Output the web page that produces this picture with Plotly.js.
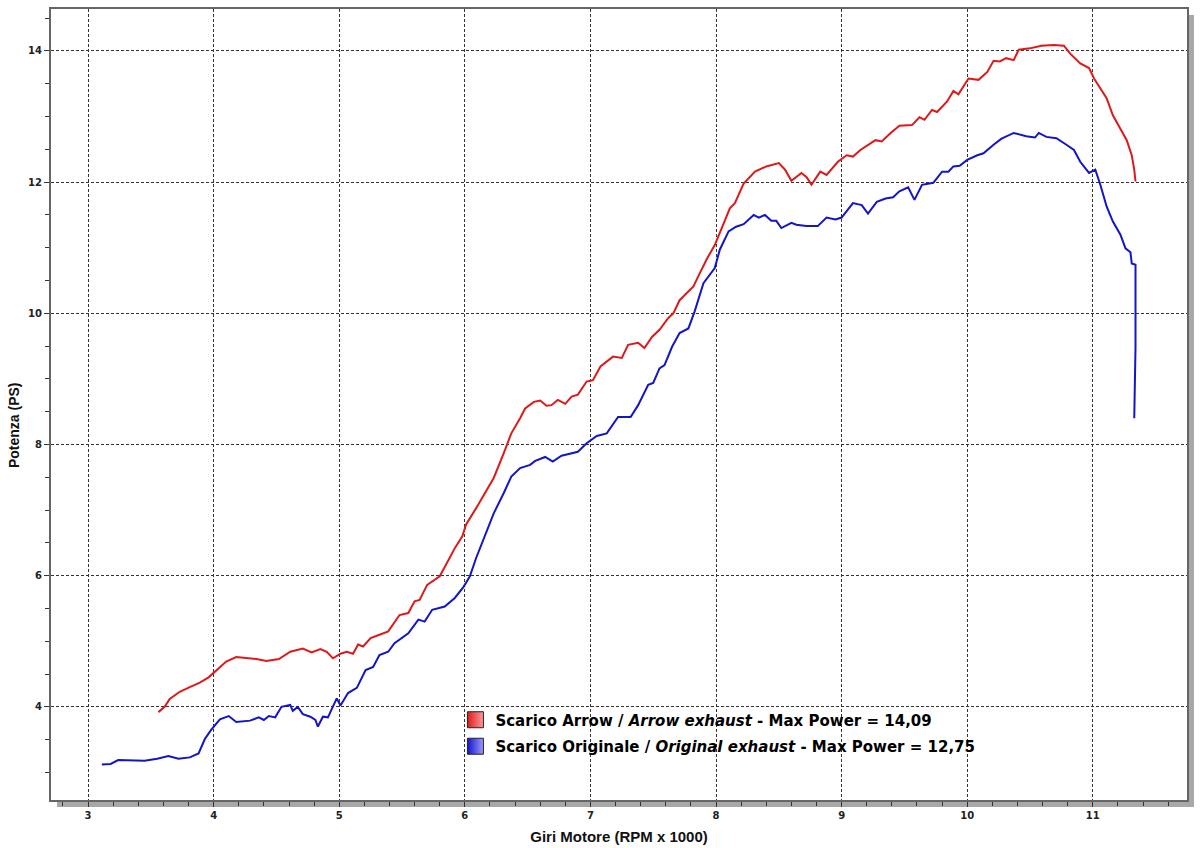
<!DOCTYPE html>
<html>
<head>
<meta charset="utf-8">
<script src="https://cdn.plot.ly/plotly-3.0.1.min.js"></script>
<style>
  html, body { margin: 0; padding: 0; background: #fff; }
  #chart { width: 1200px; height: 848px; }
</style>
</head>
<body>
<div id="chart"></div>
<script>
// Scarico Arrow (red) - rpm x 1000 / PS
const rpmArrow = [
  3.56, 3.61, 3.65, 3.73, 3.81, 3.89, 3.96, 4.00, 4.04, 4.10, 4.18, 4.26, 4.34, 4.42, 4.52,
  4.61, 4.71, 4.78, 4.85, 4.90, 4.95, 5.01, 5.06, 5.11, 5.15, 5.19, 5.25, 5.32, 5.39, 5.48,
  5.55, 5.60, 5.64, 5.70, 5.80, 5.87, 5.92, 5.98, 6.01, 6.09, 6.16, 6.23, 6.31, 6.37, 6.44,
  6.48, 6.55, 6.60, 6.65, 6.69, 6.74, 6.80, 6.85, 6.90, 6.97, 7.02, 7.08, 7.18, 7.25, 7.30,
  7.38, 7.43, 7.49, 7.55, 7.62, 7.66, 7.71, 7.78, 7.82, 7.87, 7.93, 7.99, 8.06, 8.11, 8.15,
  8.22, 8.31, 8.40, 8.50, 8.55, 8.60, 8.68, 8.72, 8.76, 8.83, 8.88, 8.97, 9.04, 9.09, 9.15,
  9.23, 9.27, 9.32, 9.39, 9.46, 9.56, 9.62, 9.66, 9.72, 9.76, 9.84, 9.89, 9.93, 10.01, 10.09,
  10.16, 10.21, 10.26, 10.31, 10.37, 10.41, 10.50, 10.59, 10.69, 10.77, 10.82, 10.90, 10.97,
  11.01, 11.06, 11.11, 11.16, 11.22, 11.27, 11.31, 11.33, 11.34
];
const psArrow = [
  3.92, 4.00, 4.12, 4.23, 4.30, 4.37, 4.45, 4.52, 4.60, 4.69, 4.76, 4.75, 4.73, 4.70, 4.73,
  4.84, 4.89, 4.83, 4.88, 4.84, 4.74, 4.81, 4.84, 4.81, 4.95, 4.92, 5.05, 5.10, 5.15, 5.40,
  5.43, 5.61, 5.63, 5.86, 5.99, 6.24, 6.42, 6.60, 6.78, 7.03, 7.26, 7.49, 7.87, 8.17, 8.40,
  8.55, 8.65, 8.67, 8.59, 8.60, 8.68, 8.62, 8.73, 8.76, 8.96, 8.98, 9.19, 9.34, 9.32, 9.52,
  9.55, 9.47, 9.64, 9.75, 9.93, 10.00, 10.20, 10.33, 10.41, 10.61, 10.84, 11.04, 11.37, 11.60, 11.68,
  11.98, 12.16, 12.24, 12.29, 12.19, 12.02, 12.14, 12.08, 11.96, 12.16, 12.11, 12.31, 12.41, 12.39, 12.49,
  12.59, 12.64, 12.62, 12.75, 12.86, 12.87, 12.99, 12.95, 13.10, 13.07, 13.23, 13.39, 13.34, 13.58, 13.56,
  13.68, 13.85, 13.84, 13.89, 13.86, 14.02, 14.04, 14.08, 14.09, 14.08, 13.96, 13.81, 13.74,
  13.58, 13.43, 13.28, 13.02, 12.82, 12.64, 12.41, 12.19, 12.01
];

// Scarico Originale (blue)
const rpmOrig = [
  3.11, 3.18, 3.24, 3.36, 3.45, 3.55, 3.64, 3.72, 3.81, 3.88, 3.93, 3.98, 4.05, 4.12, 4.18,
  4.29, 4.36, 4.40, 4.44, 4.49, 4.54, 4.61, 4.63, 4.67, 4.71, 4.77, 4.81, 4.83, 4.87, 4.91,
  4.98, 5.01, 5.07, 5.14, 5.21, 5.27, 5.32, 5.39, 5.44, 5.55, 5.63, 5.68, 5.74, 5.84, 5.92,
  5.99, 6.04, 6.09, 6.16, 6.23, 6.31, 6.37, 6.44, 6.52, 6.56, 6.64, 6.70, 6.77, 6.90, 6.97,
  7.05, 7.13, 7.22, 7.32, 7.38, 7.46, 7.50, 7.55, 7.59, 7.65, 7.71, 7.78, 7.83, 7.90, 7.99,
  8.03, 8.10, 8.16, 8.22, 8.30, 8.34, 8.39, 8.44, 8.48, 8.52, 8.60, 8.64, 8.72, 8.81, 8.88,
  8.95, 9.00, 9.09, 9.16, 9.21, 9.28, 9.35, 9.41, 9.46, 9.53, 9.58, 9.64, 9.73, 9.80, 9.85,
  9.89, 9.94, 10.00, 10.08, 10.13, 10.21, 10.27, 10.37, 10.47, 10.54, 10.57, 10.63, 10.71, 10.79,
  10.85, 10.90, 10.97, 11.02, 11.06, 11.11, 11.16, 11.22, 11.26, 11.30, 11.31, 11.34, 11.34, 11.33
];
const psOrig = [
  3.12, 3.13, 3.19, 3.18, 3.18, 3.21, 3.25, 3.21, 3.23, 3.29, 3.51, 3.65, 3.81, 3.86, 3.77,
  3.79, 3.84, 3.80, 3.86, 3.84, 4.00, 4.03, 3.94, 4.00, 3.89, 3.85, 3.80, 3.70, 3.85, 3.84,
  4.13, 4.02, 4.21, 4.29, 4.56, 4.61, 4.79, 4.84, 4.97, 5.12, 5.33, 5.30, 5.48, 5.53, 5.66,
  5.83, 5.99, 6.27, 6.60, 6.95, 7.26, 7.51, 7.64, 7.69, 7.75, 7.81, 7.74, 7.83, 7.89, 8.02,
  8.13, 8.17, 8.42, 8.42, 8.60, 8.91, 8.94, 9.16, 9.21, 9.49, 9.70, 9.77, 10.03, 10.46, 10.69,
  10.97, 11.25, 11.32, 11.36, 11.50, 11.46, 11.50, 11.41, 11.41, 11.30, 11.38, 11.35, 11.33, 11.33, 11.46,
  11.43, 11.46, 11.68, 11.65, 11.52, 11.70, 11.75, 11.77, 11.86, 11.92, 11.73, 11.96, 11.99, 12.16, 12.16,
  12.24, 12.25, 12.34, 12.41, 12.44, 12.57, 12.66, 12.75, 12.70, 12.68, 12.75, 12.69, 12.67, 12.57,
  12.49, 12.31, 12.14, 12.19, 11.96, 11.63, 11.40, 11.20, 10.99, 10.93, 10.76, 10.74, 9.49, 8.40
];

const seriesNames = [
  'Scarico Arrow / <i>Arrow exhaust</i> - Max Power = 14,09',
  'Scarico Originale / <i>Original exhaust</i> - Max Power = 12,75'
];
const seriesColors = ['#dd1a1a', '#1414c8'];
const seriesLight = ['#ff9a9a', '#9a9aff'];

const xTickVals = [3, 4, 5, 6, 7, 8, 9, 10, 11];
const yTickVals = [4, 6, 8, 10, 12, 14];

const W = 1200, H = 848;
const M = { l: 51, r: 13, t: 9, b: 48 };
const pw = W - M.l - M.r, ph = H - M.t - M.b;

const traces = [
  {
    x: rpmArrow, y: psArrow, type: 'scatter', mode: 'lines',
    line: { color: seriesColors[0], width: 2 }, showlegend: false, hoverinfo: 'x+y'
  },
  {
    x: rpmOrig, y: psOrig, type: 'scatter', mode: 'lines',
    line: { color: seriesColors[1], width: 2 }, showlegend: false, hoverinfo: 'x+y'
  }
];

// legend entries drawn as square swatches like the original
seriesNames.forEach((name, i) => {
  traces.push({
    x: [null], y: [null], type: 'scatter', mode: 'markers', name: name,
    legendgroup: 'g' + i,
    marker: {
      symbol: 'square', size: 16, color: seriesColors[i],
      gradient: { type: 'horizontal', color: seriesLight[i] },
      line: { color: '#222', width: 1 }
    }
  });
});

const gridStyle = { color: '#333', width: 1, dash: '3px,2px' };
const titleFont = { family: 'Liberation Sans, Arial, sans-serif', color: '#111', weight: 'bold' };

const layout = {
  width: W, height: H,
  margin: M,
  paper_bgcolor: '#fff', plot_bgcolor: '#fff',
  font: { family: 'DejaVu Sans, Verdana, sans-serif', color: '#222' },
  showlegend: true,
  legend: {
    x: 0.356, xanchor: 'left', y: 0.122, yanchor: 'top',
    bgcolor: 'rgba(0,0,0,0)', borderwidth: 0,
    font: { family: 'DejaVu Sans, Verdana, sans-serif', size: 15, color: '#000', weight: 'bold' },
    itemwidth: 30, tracegroupgap: 4
  },
  xaxis: {
    range: [2.705, 11.75],
    tickvals: xTickVals, ticktext: xTickVals.map(String),
    ticks: 'outside', ticklen: 5, tickwidth: 1, tickcolor: '#333',
    minor: { dtick: 0.2, tick0: 3, ticks: 'outside', ticklen: 4, tickcolor: '#333', showgrid: false },
    showgrid: true, gridcolor: gridStyle.color, gridwidth: gridStyle.width, griddash: gridStyle.dash,
    zeroline: false,
    showline: true, linecolor: '#666', linewidth: 2, mirror: true,
    tickfont: { family: 'DejaVu Sans, Verdana, sans-serif', size: 10, color: '#222', weight: 'bold' },
    title: {
      text: 'Giri Motore (RPM x 1000)', standoff: 11,
      font: Object.assign({ size: 15 }, titleFont)
    }
  },
  yaxis: {
    range: [2.58, 14.64],
    tickvals: yTickVals, ticktext: yTickVals.map(String),
    ticks: 'outside', ticklen: 5, tickwidth: 1, tickcolor: '#333',
    minor: { dtick: 0.5, tick0: 4, ticks: 'outside', ticklen: 4, tickcolor: '#333', showgrid: false },
    showgrid: true, gridcolor: gridStyle.color, gridwidth: gridStyle.width, griddash: gridStyle.dash,
    zeroline: false,
    showline: true, linecolor: '#666', linewidth: 2, mirror: true,
    tickfont: { family: 'DejaVu Sans, Verdana, sans-serif', size: 10, color: '#222', weight: 'bold' }
  },
  annotations: [
    // y title sits a little below the plot centre in the original
    {
      text: 'Potenza (PS)', textangle: -90, showarrow: false,
      xref: 'paper', yref: 'paper', x: -37 / pw, y: 0.474,
      xanchor: 'center', yanchor: 'middle',
      font: Object.assign({ size: 14 }, titleFont)
    }
  ],
  shapes: [
    // drop shadow of the frame (bottom and right)
    {
      type: 'line', xref: 'paper', yref: 'paper', layer: 'below',
      x0: 6 / pw, x1: 1 + 4 / pw, y0: -4 / ph, y1: -4 / ph,
      line: { color: '#a8a8a8', width: 6 }
    },
    {
      type: 'line', xref: 'paper', yref: 'paper', layer: 'below',
      x0: 1 + 4 / pw, x1: 1 + 4 / pw, y0: 1 - 6 / ph, y1: -7 / ph,
      line: { color: '#a8a8a8', width: 6 }
    }
  ]
};

Plotly.newPlot('chart', traces, layout, { displayModeBar: false, staticPlot: false });
</script>
</body>
</html>
